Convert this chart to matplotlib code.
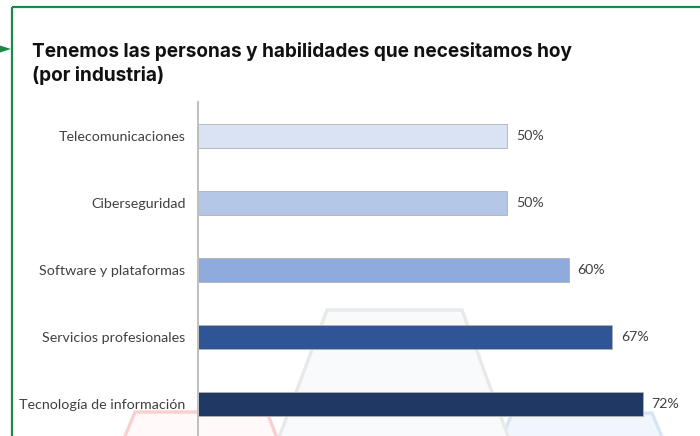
import matplotlib.pyplot as plt
from matplotlib.patches import Polygon

W, H = 700, 436

categorias = [
    "Telecomunicaciones",
    "Ciberseguridad",
    "Software y plataformas",
    "Servicios profesionales",
    "Tecnología de información",
]
valores = [50, 50, 60, 67, 72]
colores = ["#DAE3F3", "#B4C7E7", "#8FAADC", "#2F5597", "#203864"]

titulo = [
    "Tenemos las personas y habilidades que necesitamos hoy",
    "(por industria)",
]

fig = plt.figure(figsize=(W / 100, H / 100), dpi=100)
fig.patch.set_facecolor("white")

# fondo decorativo en coordenadas de pixel
bg = fig.add_axes([0, 0, 1, 1], zorder=0)
bg.set_xlim(0, W)
bg.set_ylim(H, 0)
bg.axis("off")

hexagonos = [
    ([(135, 412), (267, 412), (293, 480), (107, 480)], "#FFF9F9", "#F7D0D0"),
    ([(512, 413), (652, 413), (680, 480), (486, 480)], "#F1F6FC", "#D9E4F3"),
    ([(327, 310), (462, 310), (524, 480), (263, 480)], "#F8FAFC", "#E9E9E9"),
]
for pts, fill, edge in hexagonos:
    bg.add_patch(Polygon(pts, closed=True, facecolor=fill, edgecolor=edge,
                         linewidth=2.4, joinstyle="miter"))

# marco verde con flecha
verde = "#1B8A47"
bg.plot([12, W], [7.5, 7.5], color=verde, lw=1.6, solid_capstyle="butt")
bg.plot([12, 12], [7.5, H], color=verde, lw=1.6, solid_capstyle="butt")
bg.add_patch(Polygon([(0, 45.5), (11, 49), (0, 52.5)], closed=True,
                     facecolor=verde, edgecolor="none"))

for texto, base in zip(titulo, [57, 81]):
    fig.text(32 / W, 1 - base / H, texto, fontsize=13.7, fontweight="bold",
             family="Inter", color="#111111", va="baseline", ha="left")

# grafico de barras
x0, x1 = 198, 692
y_top, y_bot = 102.5, 437.5
ax = fig.add_axes([x0 / W, 1 - y_bot / H, (x1 - x0) / W, (y_bot - y_top) / H],
                  zorder=1)
ax.patch.set_alpha(0)

pos = list(range(len(categorias)))
ax.barh(pos, valores, height=0.35, color=colores, edgecolor="#B0B0B0",
        linewidth=0.6, zorder=2)
ax.set_xlim(0, 80)
ax.set_ylim(len(categorias) - 0.5, -0.5)

for p, v in zip(pos, valores):
    ax.annotate(f"{v}%", xy=(v, p), xytext=(6.5, 0), textcoords="offset points",
                va="center", ha="left", fontsize=10.2, family="Lato", color="#404040")

ax.set_yticks(pos)
ax.set_yticklabels(categorias, fontsize=10.3, family="Lato", color="#404040")
ax.tick_params(axis="y", length=0, pad=9)
ax.set_xticks([])
for s in ["top", "right", "bottom"]:
    ax.spines[s].set_visible(False)
ax.spines["left"].set_color("#BFBFBF")
ax.spines["left"].set_linewidth(1.4)

fig.savefig("out.png", dpi=100)
